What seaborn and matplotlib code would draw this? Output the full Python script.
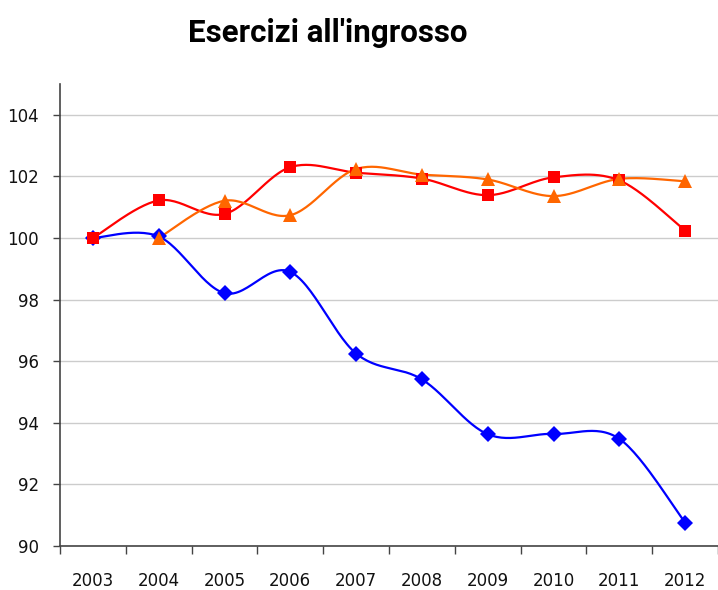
import numpy as np
import pandas as pd
import matplotlib
matplotlib.use("Agg")
import matplotlib.pyplot as plt
import seaborn as sns

years = ["2003", "2004", "2005", "2006", "2007", "2008", "2009", "2010", "2011", "2012"]
blue_vals = [100.0, 100.05, 98.21, 98.9, 96.25, 95.41, 93.63, 93.64, 93.48, 90.76]
red_vals = [100.0, 101.22, 100.78, 102.3, 102.12, 101.93, 101.39, 101.97, 101.87, 100.24]
orange_vals = [np.nan, 100.0, 101.21, 100.74, 102.24, 102.06, 101.9, 101.36, 101.92, 101.84]

title = "Esercizi all'ingrosso"
yticks = [90, 92, 94, 96, 98, 100, 102, 104]

sns.set_theme(style="white")
plt.rcParams['font.family'] = ['DejaVu Sans']


def smooth(xs, ys, n=30):
    """Catmull-Rom style smoothing (like spreadsheet 'smoothed line')."""
    xs = np.asarray(xs, float)
    ys = np.asarray(ys, float)
    m = ~np.isnan(ys)
    xs, ys = xs[m], ys[m]
    px = np.concatenate([[xs[0]], xs, [xs[-1]]])
    py = np.concatenate([[ys[0]], ys, [ys[-1]]])
    ox, oy = [], []
    for i in range(1, len(px) - 2):
        p0 = np.array([px[i - 1], py[i - 1]])
        p1 = np.array([px[i], py[i]])
        p2 = np.array([px[i + 1], py[i + 1]])
        p3 = np.array([px[i + 2], py[i + 2]])
        c1 = p1 + (p2 - p0) / 6.0
        c2 = p2 - (p3 - p1) / 6.0
        t = np.linspace(0, 1, n)[:, None]
        pts = ((1 - t) ** 3) * p1 + 3 * ((1 - t) ** 2) * t * c1 + 3 * (1 - t) * t ** 2 * c2 + t ** 3 * p2
        ox.extend(pts[:, 0])
        oy.extend(pts[:, 1])
    return np.array(ox), np.array(oy)


fig = plt.figure(figsize=(7.18, 5.90), dpi=100)
ax = fig.add_axes([60 / 718, 1 - 546 / 590, 1 - 60 / 718, (546 - 84) / 590])

x = np.arange(len(years))
series = [
    ("blue", blue_vals, "#0000FF", "D", 8.5),
    ("red", red_vals, "#FF0000", "s", 8),
    ("orange", orange_vals, "#FF6600", "^", 9.5),
]
for name, vals, col, mk, ms in series:
    sx, sy = smooth(x, vals)
    sns.lineplot(x=sx, y=sy, ax=ax, color=col, linewidth=1.6, sort=False, zorder=3)
    df = pd.DataFrame({"x": x, "y": vals}).dropna()
    ax.plot(df["x"], df["y"], linestyle="none", marker=mk, markersize=ms,
            color=col, markeredgewidth=0, zorder=4)

ax.set_xlim(-0.5, 9.5)
ax.set_ylim(90, 105)
ax.set_yticks(yticks)
ax.set_yticklabels([str(v) for v in yticks])
ax.set_xticks(x)
ax.set_xticklabels(years)
ax.set_xticks(np.arange(-0.5, 9.6, 1), minor=True)

ax.grid(axis="y", color="#cccccc", linewidth=1)
ax.set_axisbelow(True)

for s in ["top", "right"]:
    ax.spines[s].set_visible(False)
for s in ["left", "bottom"]:
    ax.spines[s].set_color("#444444")
    ax.spines[s].set_linewidth(1.2)

ax.tick_params(axis="x", which="major", length=0, pad=18.5, labelsize=12, labelcolor="#111111")
ax.tick_params(axis="x", which="minor", length=6, width=1, color="#444444", direction="out", bottom=True)
ax.tick_params(axis="y", which="major", length=5, width=1, color="#444444", direction="out",
               pad=10, labelsize=12, labelcolor="#111111", left=True)

fig.text(328 / 718, 1 - 41.5 / 590, title, ha="center", va="baseline", color="black",
         fontsize=22.5, fontweight="bold", family=["Roboto", "DejaVu Sans"])

fig.savefig("out.png", dpi=100)
